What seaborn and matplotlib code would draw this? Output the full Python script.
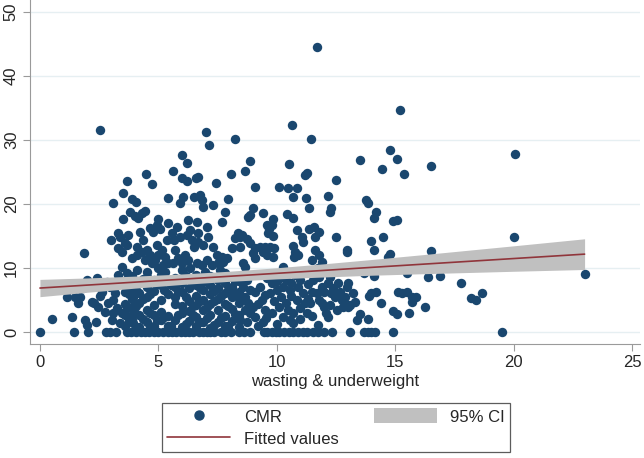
import numpy as np
import pandas as pd
import matplotlib
matplotlib.use("Agg")
import matplotlib.pyplot as plt
import seaborn as sns
from matplotlib.lines import Line2D
from matplotlib.patches import Patch

# --- CMR vs wasting & underweight ---
zero_x = [0, 1.44, 2.03, 2.8, 2.97, 3.23, 3.66, 3.85, 4.05, 4.25, 4.45, 4.62, 4.8,
          5.0, 5.2, 5.4, 5.58, 5.75, 5.95, 6.12, 6.3, 6.48, 6.7, 6.88, 7.05, 7.2,
          7.34, 7.66, 7.83, 8.07, 8.42, 8.6, 8.87, 9.45, 9.6, 9.8, 9.95, 10.1,
          10.3, 10.5, 10.7, 10.9, 11.1, 11.27, 11.55, 11.75, 12.0, 12.35, 13.1,
          13.7, 13.85, 14.0, 14.15, 14.9, 19.5]

low_left = [(0.5, 2.0), (1.14, 5.5), (1.48, 5.5), (1.69, 5.5), (1.8, 6.9), (1.6, 4.5),
            (2.19, 4.7), (2.53, 5.6), (2.45, 3.9), (2.87, 4.5), (3.08, 5.0), (2.74, 3.1),
            (3.08, 3.0), (3.25, 3.75), (3.46, 3.0), (3.67, 3.75), (3.8, 2.3), (3.38, 1.4),
            (3.04, 1.9), (4.0, 3.0), (3.92, 1.4), (1.35, 2.3), (1.9, 1.9), (1.98, 1.1),
            (2.36, 1.6), (2.83, 7.8), (2.95, 7.0), (3.16, 6.1), (3.67, 6.6), (3.92, 5.5),
            (3.88, 3.9), (2.3, 4.6), (2.6, 6.3)]

upper_left = [(2.53, 31.6), (3.67, 23.6), (3.5, 21.7), (3.08, 20.1), (3.88, 20.8),
              (4.05, 20.3), (3.8, 18.75), (4.0, 18.1), (3.5, 17.6), (3.0, 14.4),
              (3.3, 15.5), (3.38, 14.8), (3.71, 15.1), (3.59, 13.9), (3.3, 13.1),
              (3.46, 12.5), (3.67, 13.6), (1.86, 12.3), (3.88, 11.6), (4.1, 12.0),
              (3.46, 10.1), (3.67, 9.2), (3.8, 8.6), (3.3, 8.9), (2.4, 8.4), (1.98, 8.1),
              (4.1, 9.7)]

upper_mid = [(7.13, 29.2), (7.03, 31.2), (8.25, 30.2), (6.0, 27.7), (6.2, 26.4),
             (4.47, 24.7), (4.73, 23.1), (5.6, 25.2), (6.0, 24.1), (6.2, 23.6),
             (6.58, 24.1), (6.67, 24.2), (7.43, 23.3), (8.06, 24.7), (5.4, 20.9),
             (5.9, 20.2), (6.03, 21.1), (6.5, 21.1), (6.75, 21.4), (6.84, 20.6),
             (6.88, 19.5), (7.3, 19.8), (7.93, 20.8), (7.8, 18.75), (7.68, 17.2),
             (4.3, 18.6), (4.43, 18.9), (4.13, 17.8), (4.98, 17.7), (4.94, 16.7),
             (5.06, 16.1), (4.77, 15.6), (4.64, 16.25), (5.4, 17.0), (5.57, 15.5),
             (5.65, 14.4), (5.36, 14.4), (5.78, 16.4), (5.9, 14.8), (6.24, 17.5),
             (6.33, 15.9), (6.2, 15.2), (6.41, 14.4), (6.62, 17.2), (6.67, 15.5),
             (6.5, 13.3), (6.67, 14.1), (7.05, 16.4), (7.1, 14.8), (6.88, 13.6),
             (7.3, 13.3), (7.47, 12.0), (7.68, 11.7), (7.9, 11.6), (7.72, 10.9),
             (7.5, 10.8), (8.23, 14.7), (8.35, 15.5), (8.52, 15.2), (8.1, 13.1),
             (4.22, 15.6), (4.35, 14.4), (4.1, 13.3), (4.3, 12.5), (4.51, 12.8),
             (4.64, 12.0), (4.43, 11.25), (4.73, 10.8), (4.94, 13.6), (5.15, 12.8),
             (4.98, 12.0), (4.85, 11.25), (5.27, 11.7), (5.19, 10.5), (4.98, 10.0),
             (5.4, 10.8), (5.7, 12.8), (5.82, 11.6), (5.6, 10.8), (6.0, 10.8),
             (6.12, 12.0), (6.24, 11.25), (6.0, 9.7), (6.33, 10.0), (6.62, 10.8),
             (6.84, 10.5), (7.05, 11.25), (7.26, 10.5), (6.96, 9.4), (7.6, 9.7),
             (7.8, 9.2), (4.5, 9.3), (5.3, 9.4)]

upper_right = [(11.68, 44.6), (10.63, 32.4), (11.46, 30.2), (8.86, 26.7), (8.65, 25.2),
               (10.5, 26.25), (9.07, 22.7), (10.1, 22.7), (10.46, 22.5), (10.84, 22.5),
               (11.18, 24.5), (11.27, 24.8), (12.49, 23.75), (10.68, 21.1), (11.22, 20.9),
               (11.35, 19.4), (12.15, 21.25), (12.28, 19.4), (12.24, 18.75), (8.99, 19.4),
               (8.78, 18.0), (8.86, 18.3), (9.41, 18.6), (10.42, 18.4), (10.7, 17.8),
               (9.83, 17.6), (9.8, 16.7), (9.66, 16.1), (9.83, 15.0), (9.58, 16.7),
               (9.62, 15.5), (10.84, 15.9), (11.05, 14.8), (11.1, 14.1), (11.35, 16.1),
               (11.56, 16.4), (11.8, 15.6), (11.6, 14.8), (12.5, 14.8), (8.73, 14.5),
               (8.86, 13.9), (9.28, 13.3), (9.49, 13.3), (9.7, 13.3), (9.9, 13.1),
               (9.4, 12.5), (9.6, 12.0), (9.83, 11.7), (8.44, 14.8), (8.44, 13.3),
               (9.07, 13.1), (8.99, 12.3), (10.68, 13.4), (10.76, 12.5), (10.89, 12.0),
               (10.72, 11.7), (11.6, 12.8), (11.77, 12.0), (11.9, 10.9), (11.73, 10.0),
               (11.48, 11.25), (12.95, 12.8), (10.25, 10.2), (9.07, 11.6), (8.57, 10.8),
               (8.65, 10.2)]

core_low = [(3.6, 0.9), (3.6, 2.6), (3.6, 4.4), (3.6, 6.3), (3.6, 8.0),
            (3.9, 1.9), (3.9, 3.6), (3.9, 5.2), (3.9, 7.2), (3.9, 8.8),
            (4.2, 0.8), (4.2, 2.7), (4.2, 4.6), (4.2, 6.1), (4.2, 7.7),
            (4.5, 1.6), (4.5, 3.4), (4.5, 5.5), (4.5, 7.0), (4.5, 8.6),
            (4.8, 0.9), (4.8, 2.6), (4.8, 4.2), (4.8, 6.4), (4.8, 8.1),
            (5.1, 1.8), (5.1, 3.2), (5.1, 5.0), (5.1, 7.3), (5.1, 8.9),
            (5.4, 1.0), (5.4, 2.5), (5.4, 6.0), (5.4, 7.8),
            (5.7, 1.9), (5.7, 4.4), (5.7, 5.4), (5.7, 7.0), (5.7, 8.5),
            (6.0, 0.8), (6.0, 2.9), (6.0, 4.0), (6.0, 6.2), (6.0, 7.6),
            (6.3, 1.7), (6.3, 3.3), (6.3, 4.9), (6.3, 6.8), (6.3, 8.3),
            (6.6, 0.9), (6.6, 2.4), (6.6, 4.2), (6.6, 5.7), (6.6, 7.3), (6.6, 8.9),
            (6.9, 1.5), (6.9, 3.4), (6.9, 5.0), (6.9, 6.5), (6.9, 8.0),
            (7.2, 0.7), (7.2, 2.6), (7.2, 4.3), (7.2, 6.0), (7.2, 7.4), (7.2, 8.7),
            (7.5, 1.6), (7.5, 3.5), (7.5, 5.2), (7.5, 6.8), (7.5, 8.2),
            (7.8, 0.9), (7.8, 2.5), (7.8, 4.4), (7.8, 6.1), (7.8, 7.6),
            (8.1, 1.7), (8.1, 3.6), (8.1, 5.4), (8.1, 7.0), (8.1, 8.6),
            (8.4, 0.8), (8.4, 2.6), (8.4, 4.6), (8.4, 6.3), (8.4, 7.9)]

core_fill = [(3.75, 1.7), (3.75, 5.9), (4.05, 0.7), (4.05, 4.0), (4.05, 6.6), (4.35, 2.0),
             (4.35, 5.2), (4.35, 8.3), (4.65, 0.6), (4.65, 3.0), (4.65, 6.0), (4.95, 1.8),
             (4.95, 7.5), (5.25, 2.4), (5.25, 6.5), (5.55, 0.9), (5.55, 7.3), (5.85, 2.6),
             (5.85, 6.4), (6.15, 1.2), (6.15, 5.4), (6.15, 8.8), (6.45, 2.6), (6.45, 4.1),
             (6.45, 7.5), (6.75, 1.6), (6.75, 4.8), (6.75, 6.9), (7.05, 2.2), (7.05, 3.9),
             (7.05, 7.8), (7.35, 1.1), (7.35, 4.8), (7.35, 6.4), (7.65, 2.2), (7.65, 5.6),
             (7.65, 8.6), (7.95, 1.0), (7.95, 4.0), (7.95, 6.6), (8.25, 2.8), (8.25, 6.0),
             (8.25, 8.0), (9.2, 0.9), (9.1, 6.2), (9.55, 2.2), (10.0, 6.5), (10.0, 8.0),
             (10.6, 5.6), (10.6, 7.6), (11.0, 2.0), (11.3, 5.2), (11.55, 8.2), (11.9, 4.5),
             (12.3, 6.1)]

core_right = [(8.73, 8.1), (8.57, 7.0), (8.86, 6.6), (8.65, 5.5), (8.44, 5.0), (8.78, 4.5),
              (8.99, 3.9), (8.65, 3.4), (8.86, 3.0), (9.07, 2.3), (8.44, 1.9), (8.73, 1.6),
              (9.28, 7.0), (9.37, 5.0), (9.8, 7.7), (9.7, 6.1), (9.49, 3.4), (9.8, 3.0),
              (10.2, 8.6), (10.4, 8.1), (10.25, 7.0), (10.55, 6.6), (10.2, 5.5), (10.4, 4.5),
              (10.1, 3.9), (10.46, 3.4), (10.68, 3.0), (10.25, 2.3), (10.76, 8.9),
              (10.97, 8.1), (10.89, 7.0), (11.1, 6.1), (10.84, 5.0), (11.18, 4.5),
              (10.97, 3.75), (11.27, 3.0), (11.4, 4.5), (11.73, 9.7), (11.8, 8.6),
              (11.9, 7.0), (11.7, 6.1), (12.0, 6.25), (11.8, 5.0), (12.0, 3.9), (12.1, 3.0),
              (12.24, 8.6), (12.15, 7.7), (12.36, 6.9), (12.57, 7.7), (12.66, 6.25),
              (12.45, 5.5), (12.74, 5.0), (12.24, 4.2), (12.53, 3.4), (12.78, 3.9),
              (13.0, 4.2), (13.2, 6.1), (12.95, 7.0), (11.73, 1.1), (12.15, 2.3),
              (10.55, 1.9), (10.68, 1.4), (9.5, 5.8), (9.6, 8.5), (9.2, 4.3), (10.0, 1.2),
              (9.9, 4.8), (11.5, 2.5), (11.3, 7.5), (11.5, 6.2), (9.4, 1.5)]

far_right = [(13.5, 26.9), (14.77, 28.4), (15.06, 27.0), (14.43, 25.5), (15.36, 24.7),
             (16.5, 25.9), (15.19, 34.7), (13.76, 20.6), (13.85, 20.2), (14.2, 18.75),
             (14.1, 17.8), (14.9, 17.3), (15.06, 17.5), (13.97, 14.2), (14.47, 14.8),
             (14.1, 12.8), (12.95, 12.5), (14.8, 12.2), (14.7, 11.7), (16.5, 12.6),
             (16.4, 8.6), (16.9, 8.75), (14.1, 8.75), (14.05, 9.4), (15.5, 9.2),
             (13.7, 9.2), (13.0, 7.7), (12.9, 5.5), (14.0, 6.1), (13.9, 5.7), (14.2, 6.2),
             (15.1, 6.25), (15.3, 6.1), (15.5, 6.25), (15.7, 5.5), (15.9, 5.5),
             (15.7, 4.7), (13.3, 4.7), (13.1, 4.2), (13.0, 3.9), (14.4, 4.5),
             (16.25, 3.9), (15.6, 3.0), (14.9, 3.3), (15.06, 2.8), (13.5, 2.8),
             (13.4, 1.9), (13.85, 2.0), (20.06, 27.8), (20.0, 14.8), (23.0, 9.05),
             (17.8, 7.6), (18.2, 5.3), (18.4, 5.0), (18.65, 6.1)]

# linear fit and 95% CI
fit_x = [0, 2, 4, 6, 8, 10, 12, 14, 16, 18, 20, 23]
fit_y = [6.87, 7.33, 7.79, 8.25, 8.71, 9.17, 9.63, 10.10, 10.56, 11.02, 11.48, 12.17]
ci_lo = [5.52, 6.21, 6.85, 7.43, 7.92, 8.30, 8.60, 8.87, 9.09, 9.29, 9.49, 9.77]
ci_hi = [8.22, 8.45, 8.73, 9.07, 9.50, 10.04, 10.66, 11.33, 12.03, 12.75, 13.47, 14.57]

x_ticks = [0, 5, 10, 15, 20, 25]
y_ticks = [0, 10, 20, 30, 40, 50]

pts = [(x, 0.0) for x in zero_x] + low_left + upper_left + upper_mid + upper_right \
    + core_low + core_fill + core_right + far_right
df = pd.DataFrame(pts, columns=["wasting", "cmr"])
fit = pd.DataFrame({"x": fit_x, "y": fit_y, "lo": ci_lo, "hi": ci_hi})

navy = "#1a476f"
maroon = "#90353b"
band = "#c0c0c0"

sns.set_theme(style="white")
plt.rcParams["font.family"] = ["Liberation Sans", "DejaVu Sans"]

fig = plt.figure(figsize=(6.44, 4.58), dpi=100)
ax = fig.add_axes([30 / 644, 1 - 343.5 / 458, 610 / 644, 343.5 / 458])

for y in y_ticks:
    ax.axhline(y, color="#e6eff2", lw=1.0, zorder=0)

sns.scatterplot(data=df, x="wasting", y="cmr", ax=ax, s=46, color=navy,
                linewidth=0, legend=False, zorder=2)
ax.fill_between(fit["x"], fit["lo"], fit["hi"], color=band, lw=0, zorder=3)
sns.lineplot(data=fit, x="x", y="y", ax=ax, color=maroon, lw=1.2, zorder=4)

ax.set_xlim(-0.42, 25.34)
ax.set_ylim(-1.8, 51.9)
ax.set_xticks(x_ticks)
ax.set_yticks(y_ticks)
ax.set_xlabel("wasting & underweight", fontsize=12, labelpad=3)
ax.set_ylabel("")
ax.tick_params(axis="both", labelsize=12, length=5, width=0.8, color="#9a9a9a",
               direction="out", left=True, bottom=True, pad=3)
for lab in ax.get_yticklabels():
    lab.set_rotation(90)
    lab.set_va("center")
for side in ["top", "right"]:
    ax.spines[side].set_visible(False)
for side in ["left", "bottom"]:
    ax.spines[side].set_color("#9a9a9a")
    ax.spines[side].set_linewidth(0.8)

handles = [
    Line2D([], [], marker="o", ls="none", color=navy, markersize=6.5),
    Line2D([], [], color=maroon, lw=1.2),
    Patch(facecolor=band, edgecolor="none"),
]
labels = ["CMR", "Fitted values", "95% CI"]
leg = fig.legend(handles, labels, ncol=2, loc="center", bbox_to_anchor=(336 / 644, 1 - 427.5 / 458),
                 fontsize=12, frameon=True, fancybox=False, edgecolor="#333333",
                 handlelength=3.8, handletextpad=0.8, columnspacing=2.1,
                 borderpad=0.3, labelspacing=0.35, handleheight=1.0)
leg.get_frame().set_linewidth(0.9)

fig.savefig("out.png", dpi=100)
